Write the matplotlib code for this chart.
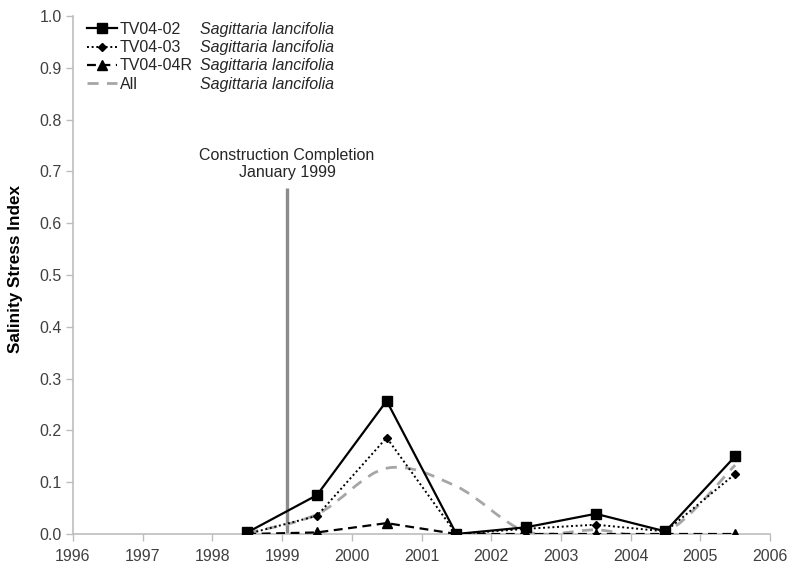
import numpy as np
import matplotlib
matplotlib.use("Agg")
import matplotlib.pyplot as plt
from matplotlib.path import Path
from matplotlib.patches import PathPatch
from matplotlib.lines import Line2D

plt.rcParams['font.family'] = ['Liberation Sans', 'DejaVu Sans']

# data
years = [1998.5, 1999.5, 2000.5, 2001.5, 2002.5, 2003.5, 2004.5, 2005.5]
tv0402 = [0.003, 0.075, 0.257, 0.0, 0.013, 0.039, 0.005, 0.150]
tv0403 = [0.0, 0.035, 0.186, 0.0, 0.010, 0.018, 0.005, 0.116]
tv0404r = [0.0, 0.003, 0.021, 0.0, 0.0, 0.0, 0.0, 0.0]
all_sites = [0.002, 0.038, 0.127, 0.092, 0.005, 0.008, 0.003, 0.133]

site_names = ["TV04-02", "TV04-03", "TV04-04R", "All"]
species = "Sagittaria lancifolia"
construction_year = 1999.07
construction_label = "Construction Completion\nJanuary 1999"

xticks = list(range(1996, 2007))
yticks = [round(0.1 * i, 1) for i in range(11)]

W, H = 795, 571
fig = plt.figure(figsize=(W / 100, H / 100), dpi=100)
ax = fig.add_axes([73 / W, 1 - 534 / H, (770 - 73) / W, (534 - 16) / H])

axis_grey = "#bdbdbd"
text_col = "#404040"
fs = 11.5


def smooth_path(xs, ys, t=1 / 6):
    # catmull-rom style bezier, like excel's "smoothed line"
    pts = np.column_stack([xs, ys])
    verts = [pts[0]]
    codes = [Path.MOVETO]
    n = len(pts)
    for i in range(n - 1):
        p0 = pts[i - 1] if i > 0 else pts[i]
        p1 = pts[i]
        p2 = pts[i + 1]
        p3 = pts[i + 2] if i + 2 < n else pts[i + 1]
        c1 = p1 + (p2 - p0) * t
        c2 = p2 - (p3 - p1) * t
        verts += [c1, c2, p2]
        codes += [Path.CURVE4] * 3
    return Path(verts, codes)


# construction line
ax.plot([construction_year, construction_year], [0, 0.668], color="#8c8c8c",
        lw=2.4, solid_capstyle="butt", zorder=2)
ax.text(construction_year, 0.683, construction_label, ha="center", va="bottom",
        fontsize=fs, color="#262626", linespacing=1.2)

# "All" smoothed grey dashed line
ax.add_patch(PathPatch(smooth_path(years, all_sites), fill=False, edgecolor="#a6a6a6",
                       lw=2.0, linestyle=(0, (4, 3)), zorder=3))

ax.plot(years, tv0404r, color="black", lw=1.6, linestyle=(0, (4, 2.5)),
        marker="^", markersize=6.5, zorder=4)
ax.plot(years, tv0403, color="black", lw=1.4, linestyle=(0, (1, 1.4)),
        marker="D", markersize=4.5, zorder=5)
ax.plot(years, tv0402, color="black", lw=1.6, linestyle="-",
        marker="s", markersize=6.5, zorder=6)

ax.set_xlim(1996, 2006)
ax.set_ylim(0, 1.0)
ax.set_xticks(xticks)
ax.set_yticks(yticks)
ax.set_yticklabels([f"{v:.1f}" for v in yticks])
for s in ["top", "right"]:
    ax.spines[s].set_visible(False)
for s in ["left", "bottom"]:
    ax.spines[s].set_color(axis_grey)
    ax.spines[s].set_linewidth(1.2)
ax.tick_params(axis="both", direction="out", length=5, width=1.0, color=axis_grey,
               labelsize=fs, labelcolor=text_col, pad=3)
ax.tick_params(axis="x", pad=6)
ax.set_ylabel("Salinity Stress Index", fontsize=12.3, fontweight="bold", color="black",
              labelpad=6)
ax.yaxis.set_label_coords(-0.072, 0.512)

handles = [
    Line2D([], [], color="black", lw=1.6, marker="s", markersize=6.5),
    Line2D([], [], color="black", lw=1.4, linestyle=(0, (1, 1.4)), marker="D", markersize=4.5),
    Line2D([], [], color="black", lw=1.6, linestyle=(0, (4, 2.5)), marker="^", markersize=6.5),
    Line2D([], [], color="#a6a6a6", lw=2.0, linestyle=(0, (4, 3))),
]
leg = ax.legend(handles, site_names, loc="upper left",
                bbox_to_anchor=(14 / 697, 1 - 6 / 518),
                frameon=False, fontsize=fs, handlelength=1.9, handletextpad=0.15,
                labelspacing=0.2, borderaxespad=0.0, borderpad=0.0)
for t in leg.get_texts():
    t.set_color("#262626")

fig.canvas.draw()
for t in leg.get_texts():
    bb = t.get_window_extent()
    yc = (bb.y0 + bb.y1) / 2 / fig.bbox.height
    fig.text(200 / W, yc, species, style="italic", fontsize=fs, color="#262626",
             ha="left", va="center")

fig.savefig("out.png", dpi=100)
